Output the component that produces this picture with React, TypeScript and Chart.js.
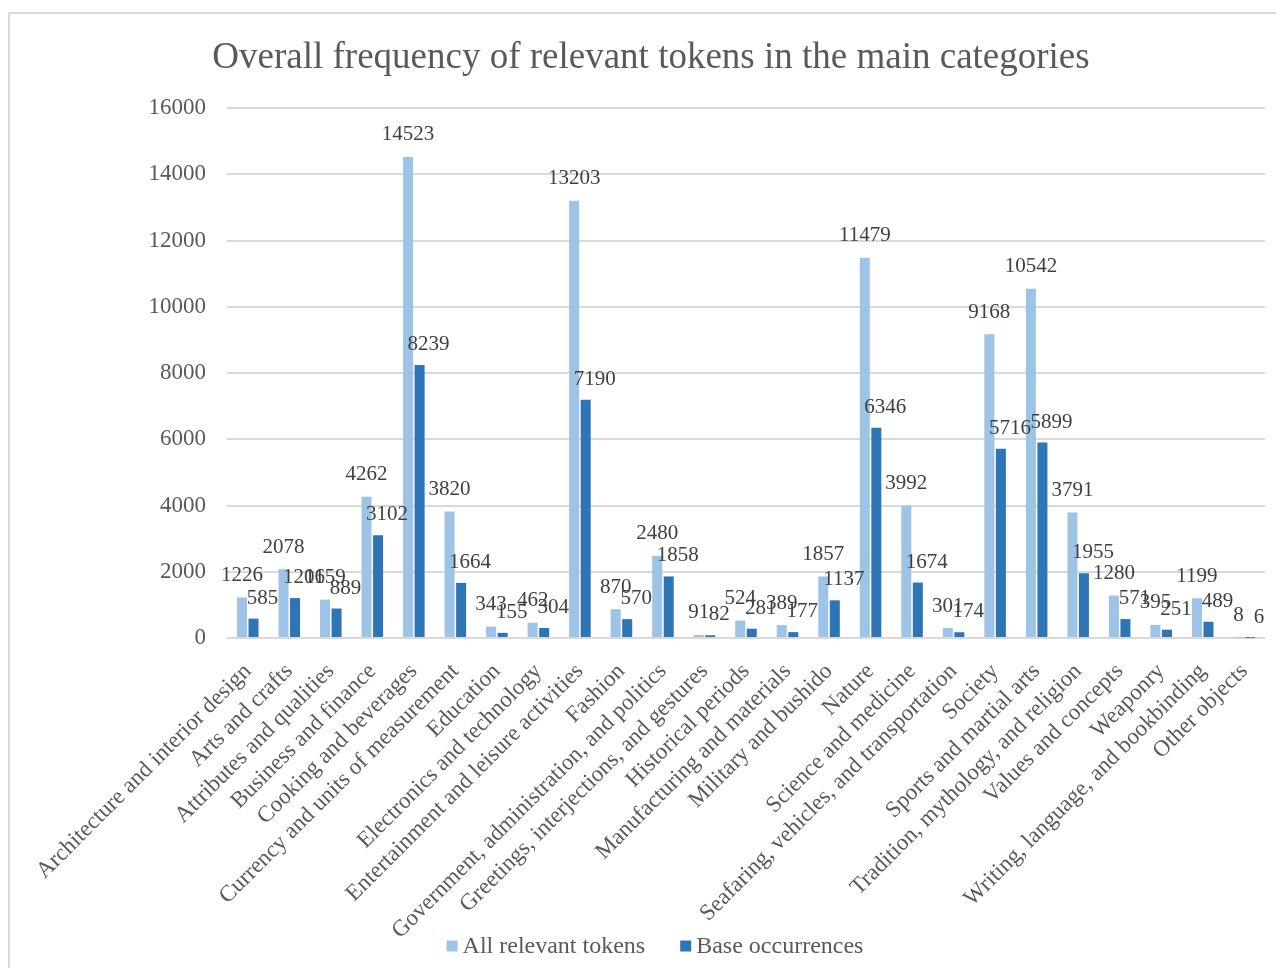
import { useEffect, useRef } from "react";
import { Chart, registerables } from "chart.js";

Chart.register(...registerables);

const categories: string[] = [
  "Architecture and interior design",
  "Arts and crafts",
  "Attributes and qualities",
  "Business and finance",
  "Cooking and beverages",
  "Currency and units of measurement",
  "Education",
  "Electronics and technology",
  "Entertainment and leisure activities",
  "Fashion",
  "Government, administration, and politics",
  "Greetings, interjections, and gestures",
  "Historical periods",
  "Manufacturing and materials",
  "Military and bushido",
  "Nature",
  "Science and medicine",
  "Seafaring, vehicles, and transportation",
  "Society",
  "Sports and martial arts",
  "Tradition, mythology, and religion",
  "Values and concepts",
  "Weaponry",
  "Writing, language, and bookbinding",
  "Other objects",
];

const allRelevantTokens: number[] = [
  1226, 2078, 1159, 4262, 14523, 3820, 343, 462, 13203, 870, 2480, 91, 524,
  389, 1857, 11479, 3992, 301, 9168, 10542, 3791, 1280, 395, 1199, 8,
];

const baseOccurrences: number[] = [
  585, 1206, 889, 3102, 8239, 1664, 155, 304, 7190, 570, 1858, 82, 281, 177,
  1137, 6346, 1674, 174, 5716, 5899, 1955, 571, 251, 489, 6,
];

const yTicks: number[] = [0, 2000, 4000, 6000, 8000, 10000, 12000, 14000, 16000];

const SERIF = '"Liberation Serif", "Times New Roman", serif';
const AXIS_GREY = "#595959";

// Writes each bar's value just above its top.
const barValueLabels = {
  id: "barValueLabels",
  afterDatasetsDraw(chart: any) {
    const { ctx } = chart;
    ctx.save();
    ctx.font = `21px ${SERIF}`;
    ctx.fillStyle = "#404040";
    ctx.textAlign = "center";
    ctx.textBaseline = "alphabetic";
    chart.data.datasets.forEach((ds: any, i: number) => {
      const meta = chart.getDatasetMeta(i);
      const shiftX = i === 0 ? 0 : 9;
      const lift = i === 0 ? 16.5 : 15;
      meta.data.forEach((bar: any, j: number) => {
        ctx.fillText(String(ds.data[j]), bar.x + shiftX, bar.y - lift);
      });
    });
    ctx.restore();
  },
};

// Legend row along the bottom edge; drawn by hand so the long rotated
// category names can run down into the same band without being clipped.
const bottomLegend = {
  id: "bottomLegend",
  afterDraw(chart: any) {
    const { ctx } = chart;
    const box = 11;
    const boxGap = 5;
    const itemGap = 35;
    ctx.save();
    ctx.font = `24px ${SERIF}`;
    ctx.textBaseline = "middle";
    ctx.textAlign = "left";
    const items = chart.data.datasets.map((ds: any) => ({
      text: ds.label as string,
      color: ds.backgroundColor as string,
      width: box + boxGap + ctx.measureText(ds.label).width,
    }));
    const total =
      items.reduce((s: number, it: any) => s + it.width, 0) + itemGap * (items.length - 1);
    let x = chart.width / 2 + 4 - total / 2;
    const y = 932;
    items.forEach((it: any) => {
      ctx.fillStyle = it.color;
      ctx.fillRect(x, y - box / 2, box, box);
      ctx.fillStyle = AXIS_GREY;
      ctx.fillText(it.text, x + box + boxGap, y + 1);
      x += it.width + itemGap;
    });
    ctx.restore();
  },
};

export default function App() {
  const canvasRef = useRef<HTMLCanvasElement | null>(null);

  useEffect(() => {
    if (!canvasRef.current) return;
    const chart = new Chart(canvasRef.current, {
      type: "bar",
      data: {
        labels: categories,
        datasets: [
          {
            label: "All relevant tokens",
            data: allRelevantTokens,
            backgroundColor: "#9dc3e6",
            categoryPercentage: 0.555,
            barPercentage: 0.87,
          },
          {
            label: "Base occurrences",
            data: baseOccurrences,
            backgroundColor: "#2e75b6",
            categoryPercentage: 0.555,
            barPercentage: 0.87,
          },
        ],
      },
      options: {
        responsive: false,
        animation: false,
        layout: { padding: { left: 27, right: 27, top: 0, bottom: 0 } },
        plugins: {
          title: {
            display: true,
            text: "Overall frequency of relevant tokens in the main categories",
            color: AXIS_GREY,
            font: { family: SERIF, size: 37, weight: "normal", lineHeight: 1.2 },
            padding: { top: 22, bottom: 27.6 },
          },
          legend: { display: false },
          tooltip: { enabled: false },
        },
        scales: {
          x: {
            grid: { display: false, drawTicks: false },
            border: { display: false },
            ticks: {
              color: AXIS_GREY,
              font: { family: SERIF, size: 23 },
              autoSkip: false,
              maxRotation: 45,
              minRotation: 45,
              padding: 20,
            },
            afterFit: (scale: any) => {
              scale.height = 338;
            },
          },
          y: {
            min: 0,
            max: 16000,
            grid: { color: "#d9d9d9", lineWidth: 2, drawTicks: false },
            border: { display: false },
            afterBuildTicks: (scale: any) => {
              scale.ticks = yTicks.map((v) => ({ value: v }));
            },
            ticks: {
              color: AXIS_GREY,
              font: { family: SERIF, size: 23 },
              padding: 21,
              callback: (value: any) => String(value),
            },
            afterFit: (scale: any) => {
              scale.width = 190;
            },
          },
        },
      },
      plugins: [barValueLabels, bottomLegend],
    });
    return () => chart.destroy();
  }, []);

  return (
    <div style={{ paddingTop: 4 }}>
      <div style={{ width: 1276, height: 956, overflow: "hidden" }}>
        <div
          style={{
            width: 1290,
            height: 980,
            boxSizing: "border-box",
            borderTop: "2px solid #d9d9d9",
            borderLeft: "2px solid #d9d9d9",
            background: "#ffffff",
          }}
        >
          <canvas ref={canvasRef} width={1282} height={962} />
        </div>
      </div>
    </div>
  );
}
